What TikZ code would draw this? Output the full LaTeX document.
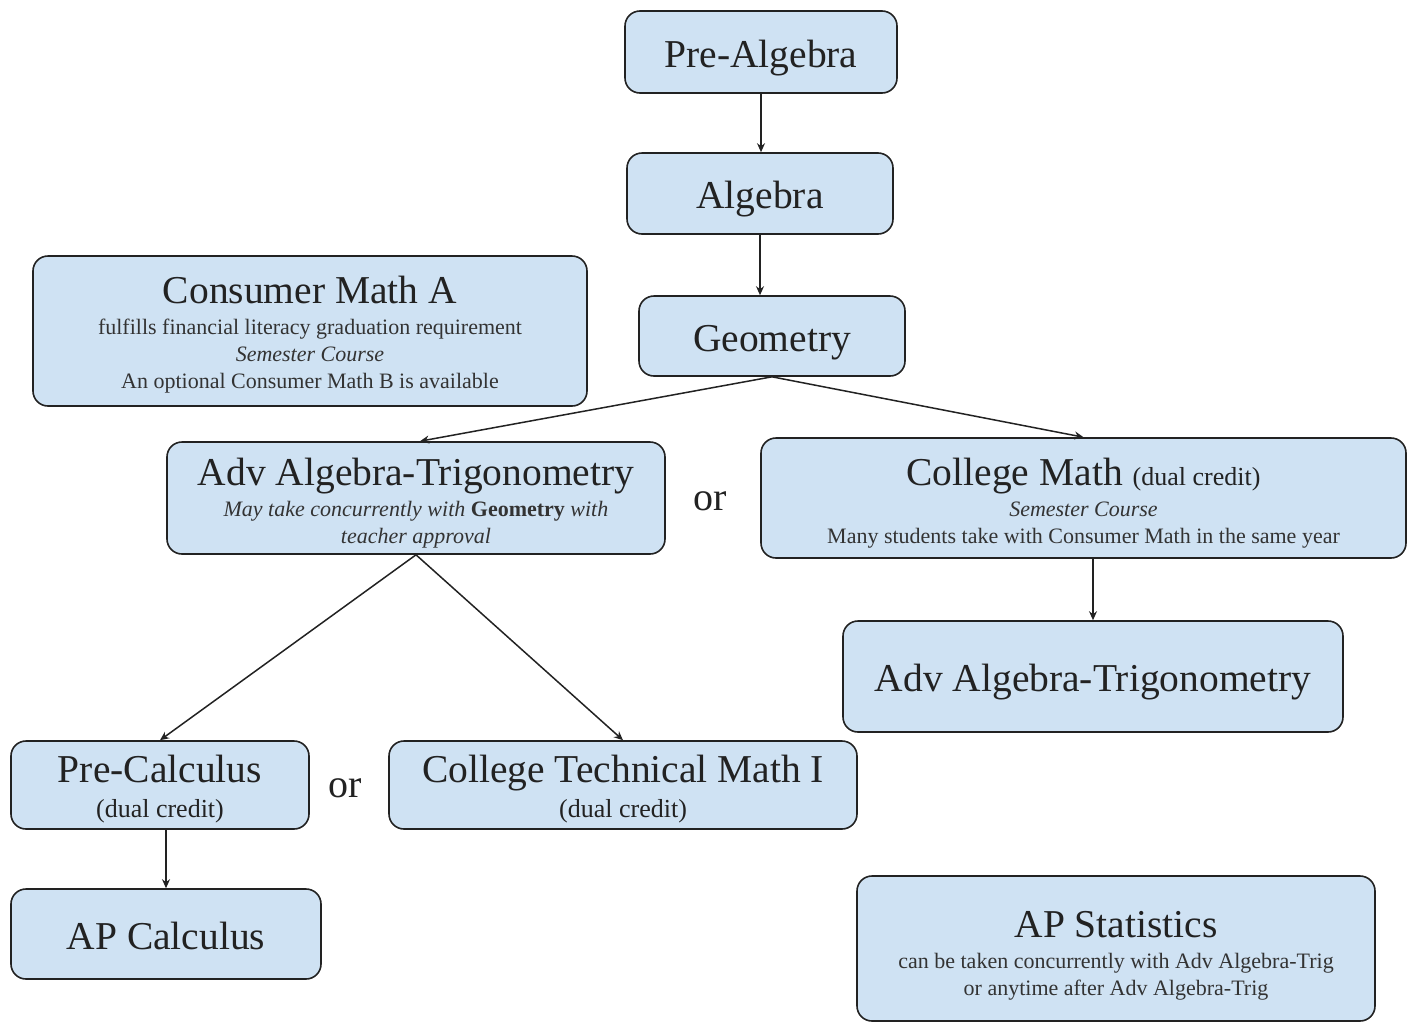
\documentclass[tikz,border=0pt]{standalone}
\usepackage{fontspec}
\setmainfont{Liberation Serif}
\usetikzlibrary{arrows.meta}
\definecolor{boxfill}{HTML}{CFE2F3}
\definecolor{boxline}{HTML}{222222}
\definecolor{subtext}{HTML}{333333}
\newcommand{\ttl}{\fontsize{39.5}{42}\selectfont}
\newcommand{\sbt}{\fontsize{22}{27}\selectfont\color{subtext}}
\newcommand{\dcr}{\fontsize{26}{35}\selectfont}
\newcommand{\lift}[1]{\rule{0pt}{#1}}
\tikzset{
  course/.style={draw=boxline, fill=boxfill, line width=1.6pt, rounded corners=15pt,
    inner sep=0pt, align=center, text=boxline},
  single/.style={text height=30pt, text depth=0pt},
  multi/.style={font=\fontsize{22}{27}\selectfont},
  duo/.style={font=\fontsize{26}{35}\selectfont},
  flow/.style={draw=boxline, line width=1.5pt, -{Stealth[length=9pt,width=8pt]}},
  ortext/.style={font=\fontsize{40}{44}\selectfont, text=boxline}
}
\begin{document}
\begin{tikzpicture}[x=1pt,y=-1pt]
\useasboundingbox (0,0) rectangle (1408,1023);
\node[course, single, minimum width=272pt, minimum height=82pt] (pa) at (761,52) {\ttl Pre-Algebra};
\node[course, single, minimum width=266pt, minimum height=81pt] (alg) at (760,193.5) {\ttl Algebra};
\node[course, single, minimum width=266pt, minimum height=80pt] (geo) at (772,336) {\ttl Geometry};
\node[course, multi, minimum width=554pt, minimum height=150pt] (cma) at (310,331)
  {\ttl\lift{35pt}Consumer Math A\\[4pt] \sbt fulfills financial literacy graduation requirement\\ \sbt\itshape Semester Course\\ \sbt An optional Consumer Math B is available};
\node[course, multi, minimum width=498pt, minimum height=112pt] (aat) at (416,498)
  {\ttl\lift{37pt}Adv Algebra-Trigonometry\\[4pt] \sbt\itshape May take concurrently with \textbf{\upshape Geometry} with\\ \sbt\itshape teacher approval};
\node[ortext] (or1) at (710,501) {or};
\node[course, multi, minimum width=645pt, minimum height=120pt] (cm) at (1083.5,498)
  {\ttl\lift{37pt}College Math {\dcr (dual credit)}\\[4pt] \sbt\itshape Semester Course\\ \sbt Many students take with Consumer Math in the same year};
\node[course, single, minimum width=500pt, minimum height=111pt] (aat2) at (1093,676.5) {\ttl Adv Algebra-Trigonometry};
\node[course, duo, minimum width=298pt, minimum height=88pt] (pc) at (160,785)
  {\ttl\lift{35pt}Pre-Calculus\\ \dcr (dual credit)};
\node[ortext] (or2) at (345,788) {or};
\node[course, duo, minimum width=468pt, minimum height=88pt] (ctm) at (623,785)
  {\ttl\lift{35pt}College Technical Math I\\ \dcr (dual credit)};
\node[course, single, minimum width=310pt, minimum height=90pt] (apc) at (166,934) {\ttl AP Calculus};
\node[course, multi, minimum width=518pt, minimum height=145pt] (aps) at (1116,948.5)
  {\ttl\lift{41pt}AP Statistics\\[4pt] \sbt can be taken concurrently with Adv Algebra-Trig\\ \sbt or anytime after Adv Algebra-Trig};
\draw[flow] (pa.south) -- (pa.south |- alg.north);
\draw[flow] (alg.south) -- (alg.south |- geo.north);
\draw[flow] (geo.south) -- ([xshift=4pt]aat.north);
\draw[flow] (geo.south) -- (cm.north);
\draw[flow] (aat.south) -- (pc.north);
\draw[flow] (aat.south) -- (ctm.north);
\draw[flow] (aat2.north |- cm.south) -- (aat2.north);
\draw[flow] (apc.north |- pc.south) -- (apc.north);
\end{tikzpicture}
\end{document}
